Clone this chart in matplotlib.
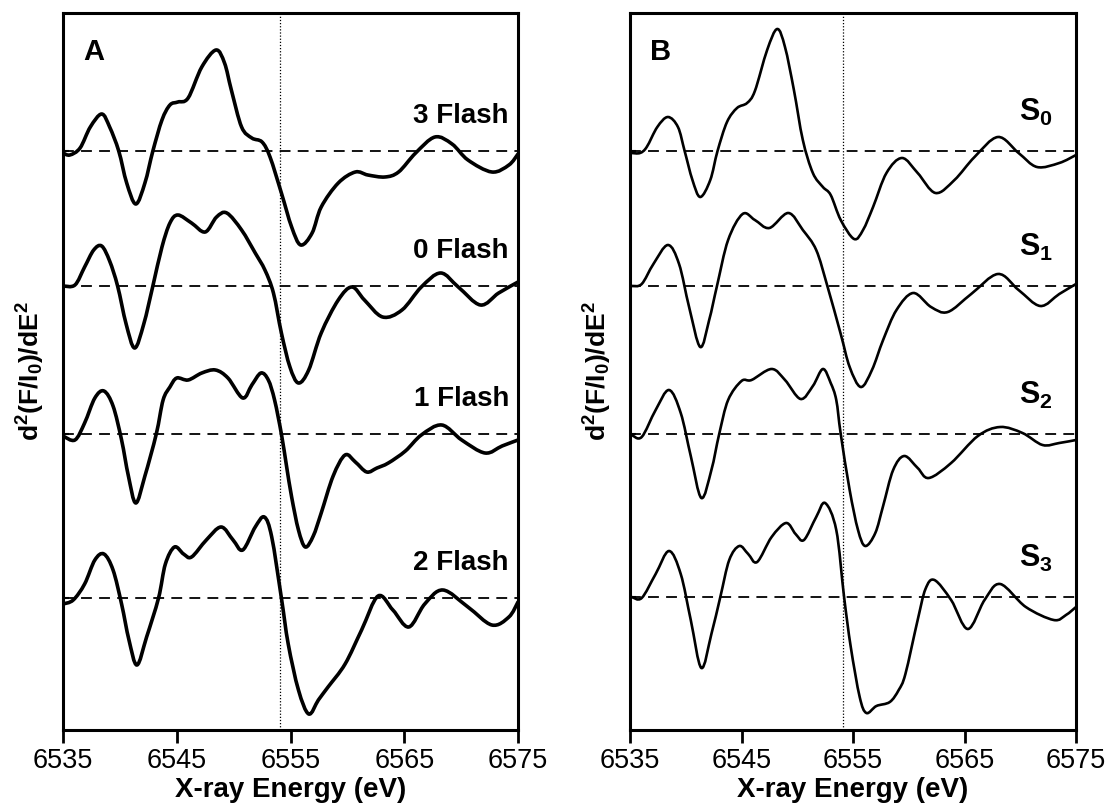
import matplotlib
matplotlib.use('Agg')
import matplotlib.pyplot as plt
from matplotlib.path import Path
from matplotlib.patches import PathPatch
import numpy as np

plt.rcParams['font.family'] = ['Liberation Sans', 'DejaVu Sans']
plt.rcParams['mathtext.fontset'] = 'custom'
plt.rcParams['mathtext.rm'] = 'Liberation Sans'
plt.rcParams['mathtext.bf'] = 'Liberation Sans:bold'
plt.rcParams['mathtext.it'] = 'Liberation Sans:italic'

# ---- panel A : flash-advanced samples (energy in eV, 2nd derivative in arb. units)
e_3f = [6535.0, 6535.6, 6536.5, 6537.4, 6538.4, 6539.1, 6539.9, 6540.6, 6541.4, 6542.2,
        6542.9, 6543.7, 6544.4, 6545.1, 6546.0, 6547.2, 6548.45, 6549.2, 6549.8, 6550.7,
        6551.6, 6552.5, 6553.2, 6554.2, 6555.1, 6555.9, 6556.9, 6557.7, 6559.2, 6560.7,
        6561.8, 6563.3, 6564.5, 6566.0, 6567.7, 6569.2, 6570.6, 6572.7, 6574.2, 6575.0]
y_3f = [-2, -4, 3, 24, 37, 24, 0, -32, -53, -32,
        0, 31, 46, 49, 53, 84, 101, 88, 61, 24,
        13, 9, -6, -42, -76, -94, -82, -56, -32, -21,
        -24, -26, -21, -2, 14, 7, -9, -21, -14, -3]

e_0f = [6535.0, 6536.05, 6536.9, 6537.7, 6538.4, 6539.1, 6539.8, 6540.55, 6541.3, 6542.1,
        6542.9, 6543.7, 6544.4, 6545.1, 6546.3, 6547.5, 6548.5, 6549.4, 6550.7, 6551.9,
        6552.75, 6553.5, 6554.2, 6554.95, 6555.7, 6556.6, 6557.7, 6559.2, 6560.4, 6561.5,
        6563.1, 6564.8, 6566.5, 6568.2, 6569.75, 6571.7, 6573.3, 6575.0]
y_0f = [0, 1, 19, 36, 40, 25, 0, -38, -62, -38,
        0, 39, 63, 71, 63, 54, 69, 73, 56, 33,
        16, -7, -47, -81, -97, -84, -47, -14, -1, -14,
        -31, -24, -1, 13, -1, -19, -7, 4]

e_1f = [6535.0, 6536.05, 6536.9, 6537.8, 6538.6, 6539.4, 6540.15, 6540.75, 6541.4, 6542.2,
        6543.2, 6543.8, 6544.4, 6545.0, 6546.0, 6547.2, 6548.4, 6549.5, 6550.8, 6551.6,
        6552.4, 6553.05, 6553.6, 6554.2, 6554.65, 6555.1, 6555.7, 6556.3, 6557.0, 6557.7,
        6558.75, 6559.8, 6560.7, 6561.7, 6562.6, 6563.6, 6565.1, 6566.5, 6568.3, 6570.05,
        6572.1, 6573.6, 6575.0]
y_1f = [-2, -6, 11, 36, 43, 28, -6, -42, -69, -42,
        0, 34, 47, 56, 54, 61, 64, 56, 36, 49,
        61, 54, 34, 0, -32, -63, -96, -113, -102, -79,
        -42, -21, -28, -38, -34, -29, -17, -1, 9, -6,
        -19, -12, -6]

e_2f = [6535.0, 6535.9, 6536.9, 6537.8, 6538.6, 6539.4, 6540.15, 6540.8, 6541.5, 6542.35,
        6543.4, 6544.0, 6544.8, 6545.6, 6546.3, 6547.6, 6548.9, 6549.95, 6550.8, 6551.9,
        6552.7, 6553.35, 6554.2, 6554.8, 6555.7, 6556.6, 6557.45, 6558.3, 6559.8, 6561.25,
        6562.7, 6564.0, 6565.4, 6566.8, 6568.4, 6570.6, 6572.7, 6574.2, 6575.0]
y_2f = [-6, -2, 14, 38, 44, 28, -6, -42, -67, -39,
        0, 34, 51, 44, 41, 58, 71, 58, 48, 71,
        81, 61, 0, -46, -92, -116, -102, -89, -66, -32,
        2, -12, -29, -6, 8, -9, -27, -19, -4]

# ---- panel B : S-state spectra
e_s0 = [6535.15, 6535.9, 6536.5, 6537.45, 6538.4, 6539.3, 6539.9, 6540.6, 6541.3, 6542.2,
        6542.85, 6543.7, 6544.6, 6545.5, 6546.2, 6547.3, 6548.2, 6548.9, 6549.7, 6550.5,
        6551.4, 6552.3, 6553.0, 6553.9, 6555.1, 6555.9, 6556.8, 6558.0, 6559.4, 6560.8,
        6562.4, 6564.1, 6565.9, 6568.0, 6569.85, 6571.5, 6573.5, 6575.0]
y_s0 = [-2, -2, 4, 24, 34, 24, 0, -29, -46, -29,
        0, 29, 43, 48, 60, 101, 122, 104, 61, 11,
        -22, -36, -44, -69, -88, -79, -56, -22, -7, -22,
        -42, -29, -6, 14, -2, -16, -12, -4]

e_s1 = [6535.15, 6536.05, 6537.1, 6538.4, 6539.4, 6540.3, 6541.3, 6542.1, 6542.8, 6543.8,
        6545.1, 6546.2, 6547.5, 6549.2, 6550.5, 6551.7, 6552.7, 6553.9, 6554.7, 6555.7,
        6556.7, 6557.7, 6558.9, 6560.4, 6562.0, 6563.5, 6565.6, 6568.0, 6569.85, 6571.8,
        6573.5, 6575.0]
y_s1 = [0, 2, 22, 41, 22, -21, -61, -34, 0, 46,
        72, 66, 58, 73, 56, 36, 0, -48, -81, -101,
        -84, -54, -24, -7, -21, -26, -8, 12, -4, -20,
        -8, 2]

e_s2 = [6535.15, 6536.05, 6537.3, 6538.5, 6539.55, 6540.45, 6541.4, 6542.3, 6543.0, 6543.8,
        6545.0, 6545.9, 6547.7, 6548.9, 6550.3, 6551.4, 6552.3, 6553.0, 6553.5, 6553.9,
        6554.7, 6555.45, 6556.1, 6557.0, 6557.7, 6558.6, 6559.6, 6560.8, 6561.8, 6563.8,
        6566.2, 6568.2, 6570.2, 6572.0, 6573.5, 6575.0]
y_s2 = [-1, -3, 24, 44, 21, -22, -64, -36, 0, 34,
        53, 54, 65, 54, 35, 48, 65, 51, 34, 0,
        -56, -96, -112, -99, -72, -36, -22, -34, -44, -29,
        -2, 7, 1, -11, -9, -6]

e_s3 = [6535.15, 6536.05, 6537.3, 6538.5, 6539.55, 6540.45, 6541.4, 6542.3, 6543.1, 6543.9,
        6544.8, 6545.6, 6546.4, 6547.7, 6549.0, 6549.85, 6550.6, 6551.7, 6552.5, 6553.5,
        6554.2, 6554.8, 6555.6, 6556.2, 6557.1, 6558.3, 6559.1, 6559.7, 6560.8, 6561.5,
        6562.3, 6563.8, 6565.3, 6566.8, 6568.2, 6570.5, 6573.0, 6574.1, 6575.0]
y_s3 = [0, -1, 23, 46, 23, -23, -71, -37, 0, 37,
        51, 43, 35, 60, 74, 63, 57, 80, 94, 67,
        0, -50, -100, -116, -109, -105, -93, -77, -23, 8,
        17, -3, -32, -3, 13, -10, -23, -18, -10]

labels_a = ['3 Flash', '0 Flash', '1 Flash', '2 Flash']
labels_b = [r'$\mathbf{S_0}$', r'$\mathbf{S_1}$', r'$\mathbf{S_2}$', r'$\mathbf{S_3}$']
offsets_a = [579, 444, 296, 132]
offsets_b = [579, 444, 296, 133]
edge_energy = 6554.1
xticks = [6535, 6545, 6555, 6565, 6575]

curves_a = [(e_3f, y_3f), (e_0f, y_0f), (e_1f, y_1f), (e_2f, y_2f)]
curves_b = [(e_s0, y_s0), (e_s1, y_s1), (e_s2, y_s2), (e_s3, y_s3)]


def smooth_path(x, y):
    # draw the read points as one smooth bezier path (catmull-rom style)
    p = np.column_stack([x, y]).astype(float)
    ext = np.vstack([p[0], p, p[-1]])
    verts = [p[0]]
    codes = [Path.MOVETO]
    for i in range(len(p) - 1):
        p0, p1, p2, p3 = ext[i], ext[i + 1], ext[i + 2], ext[i + 3]
        verts += [p1 + (p2 - p0) / 6, p2 - (p3 - p1) / 6, p2]
        codes += [Path.CURVE4] * 3
    return Path(verts, codes)


fig = plt.figure(figsize=(11.17, 8.09), dpi=100)
axA = fig.add_axes([63 / 1117, 1 - 730 / 809, 455 / 1117, 717 / 809])
axB = fig.add_axes([630 / 1117, 1 - 730 / 809, 446 / 1117, 717 / 809])


def draw_panel(ax, curves, offsets, labels, lw, lab_x, lab_dy, lab_size, letter):
    for (e, y), off, lab in zip(curves, offsets, labels):
        ax.axhline(off, color='black', lw=1.3, dashes=(6, 4), zorder=1)
        patch = PathPatch(smooth_path(e, np.array(y) + off), fill=False,
                          edgecolor='black', lw=lw, joinstyle='round',
                          capstyle='round', zorder=3)
        ax.add_patch(patch)
        ax.text(lab_x, off + lab_dy, lab, ha='right', va='baseline',
                fontsize=lab_size, fontweight='bold')
    ax.axvline(edge_energy, color='black', lw=0.9, ls=(0, (1, 1.5)), zorder=2)
    ax.set_xlim(6535, 6575)
    ax.set_ylim(0, 717)
    ax.set_xticks(xticks)
    ax.set_xticklabels([str(t) for t in xticks])
    ax.set_yticks(offsets)
    ax.set_yticklabels([])
    ax.tick_params(axis='x', direction='out', length=9, width=2, labelsize=19.5, pad=4)
    ax.tick_params(axis='y', direction='in', length=4, width=1.5)
    for s in ax.spines.values():
        s.set_linewidth(2.2)
    ax.set_xlabel('X-ray Energy (eV)', fontsize=20, fontweight='bold', labelpad=2)
    ax.set_ylabel(r'$\mathbf{d^2(F/I_0)/dE^2}$', fontsize=19, labelpad=8)
    ax.text(0.045, 0.965, letter, transform=ax.transAxes, ha='left', va='top',
            fontsize=21, fontweight='bold')


draw_panel(axA, curves_a, offsets_a, labels_a, 2.6, 6574.2, 28, 20, 'A')
draw_panel(axB, curves_b, offsets_b, labels_b, 1.9, 6572.9, 30, 22, 'B')

fig.savefig('out.png', dpi=100)
